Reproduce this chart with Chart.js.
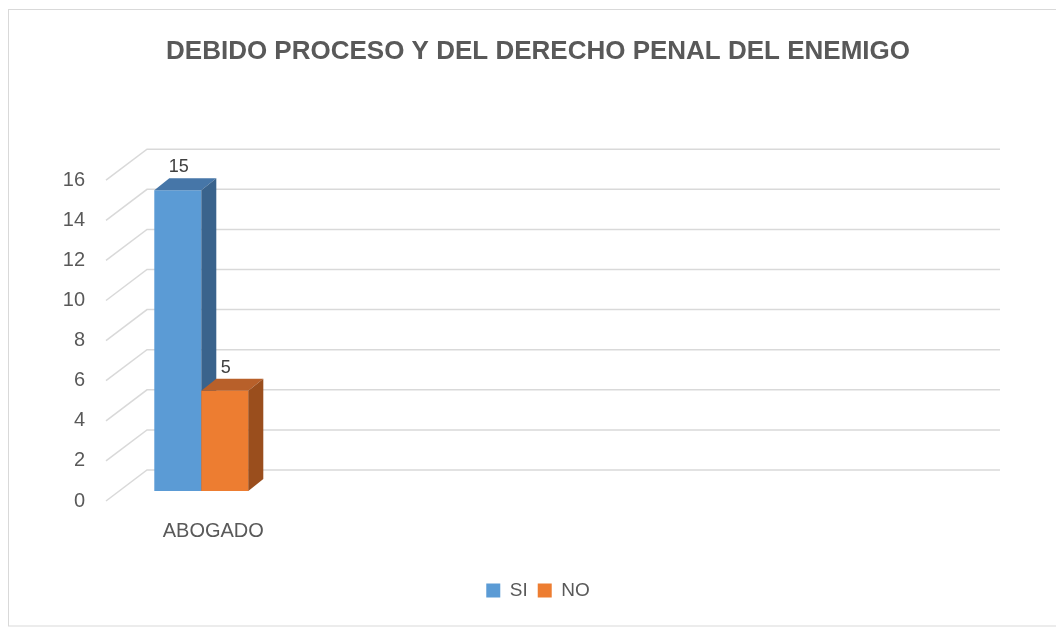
<!DOCTYPE html>
<html><head><meta charset="utf-8">
<script src="https://cdn.jsdelivr.net/npm/chart.js@4.4.0/dist/chart.umd.min.js"></script>
<style>html,body{margin:0;padding:0;background:#fff;} canvas{display:block;}</style>
</head><body>
<canvas id="c" width="1056" height="627"></canvas>
<script>
// ---- data ----
const chartTitle = 'DEBIDO PROCESO Y DEL DERECHO PENAL DEL ENEMIGO';
const categories = ['ABOGADO', '', '', '', ''];
const seriesNames = ['SI', 'NO'];
const siValues = [15];
const noValues = [5];
const yTicksMin = 0;
const yTicksMax = 16;
const yTicksStep = 2;

// ---- styles ----
const FONT = "'Liberation Sans', Arial, sans-serif";
const TEXT = '#595959';
const frontColors = ['#5B9BD5', '#ED7D31'];
const faceColors = [{top: '#4676A8', side: '#3A638C'}, {top: '#B8602A', side: '#9A4E1D'}];
const DEPTH = {dx: 15, dy: -12};
const WALL = {backDx: 31, backDy: -21, frontDx: -10, frontDy: 10};

const threeD = {
  id: 'threeD',
  beforeDraw(chart) {
    const ctx = chart.ctx;
    ctx.save();
    ctx.fillStyle = '#fff';
    ctx.fillRect(0, 0, chart.width, chart.height);
    ctx.strokeStyle = '#d9d9d9';
    ctx.lineWidth = 1;
    ctx.strokeRect(8.5, 9.5, 1070, 616.5);
    ctx.restore();
  },
  beforeDatasetsDraw(chart) {
    const {ctx, chartArea: a, scales: {y}} = chart;
    ctx.save();
    ctx.strokeStyle = '#d9d9d9';
    ctx.lineWidth = 1.5;
    y.ticks.forEach(t => {
      const py = y.getPixelForValue(t.value);
      ctx.beginPath();
      ctx.moveTo(a.left + WALL.frontDx, py + WALL.frontDy);
      ctx.lineTo(a.left + WALL.backDx, py + WALL.backDy);
      ctx.lineTo(a.right + WALL.backDx, py + WALL.backDy);
      ctx.stroke();
    });
    ctx.restore();
  },
  afterDatasetsDraw(chart) {
    const ctx = chart.ctx;
    ctx.save();
    const labels = [];
    chart.data.datasets.forEach((ds, i) => {
      const meta = chart.getDatasetMeta(i);
      meta.data.forEach((bar, j) => {
        const {x, y, base, width} = bar.getProps(['x', 'y', 'base', 'width'], true);
        const l = x - width / 2, r = x + width / 2;
        if (i > 0) {
          ctx.fillStyle = frontColors[i];
          ctx.fillRect(l, y, width, base - y);
        }
        ctx.fillStyle = faceColors[i].top;
        ctx.beginPath();
        ctx.moveTo(l, y); ctx.lineTo(l + DEPTH.dx, y + DEPTH.dy);
        ctx.lineTo(r + DEPTH.dx, y + DEPTH.dy); ctx.lineTo(r, y);
        ctx.closePath(); ctx.fill();
        ctx.fillStyle = faceColors[i].side;
        ctx.beginPath();
        ctx.moveTo(r, y); ctx.lineTo(r + DEPTH.dx, y + DEPTH.dy);
        ctx.lineTo(r + DEPTH.dx, base + DEPTH.dy); ctx.lineTo(r, base);
        ctx.closePath(); ctx.fill();
        labels.push({x: x + 1, y: y - 18, text: String(ds.data[j])});
      });
    });
    ctx.fillStyle = '#404040';
    ctx.font = '18px ' + FONT;
    ctx.textAlign = 'center';
    ctx.textBaseline = 'alphabetic';
    labels.forEach(lb => ctx.fillText(lb.text, lb.x, lb.y));
    ctx.restore();
  }
};

new Chart(document.getElementById('c'), {
  type: 'bar',
  data: {
    labels: categories,
    datasets: [
      {label: seriesNames[0], data: siValues, backgroundColor: frontColors[0], borderWidth: 0},
      {label: seriesNames[1], data: noValues, backgroundColor: frontColors[1], borderWidth: 0}
    ]
  },
  options: {
    responsive: false,
    animation: false,
    events: [],
    layout: {padding: {top: 10, left: 50, right: 30, bottom: 17}},
    datasets: {bar: {categoryPercentage: 0.551, barPercentage: 1}},
    scales: {
      x: {
        grid: {display: false, drawTicks: false},
        border: {display: false},
        ticks: {color: TEXT, font: {family: FONT, size: 20}, padding: 28, labelOffset: 12, autoSkip: false, maxRotation: 0},
        afterFit: s => { s.height = 80; }
      },
      y: {
        min: yTicksMin, max: yTicksMax,
        grid: {display: false, drawTicks: false},
        border: {display: false},
        ticks: {stepSize: yTicksStep, color: TEXT, font: {family: FONT, size: 20}, padding: 31, labelOffset: 10},
        afterFit: s => { s.width = 66; }
      },
      yRight: {
        position: 'right',
        min: yTicksMin, max: yTicksMax,
        grid: {display: false, drawTicks: false},
        border: {display: false},
        ticks: {display: false},
        afterFit: s => { s.width = 57; }
      }
    },
    plugins: {
      title: {display: true, text: chartTitle, color: TEXT, font: {family: FONT, size: 26, weight: 'bold'}, padding: {top: 26, bottom: 103}},
      legend: {position: 'bottom', labels: {boxWidth: 14, boxHeight: 14, color: TEXT, font: {family: FONT, size: 19}, padding: 10}},
      tooltip: {enabled: false}
    }
  },
  plugins: [threeD]
});
</script>
</body></html>
